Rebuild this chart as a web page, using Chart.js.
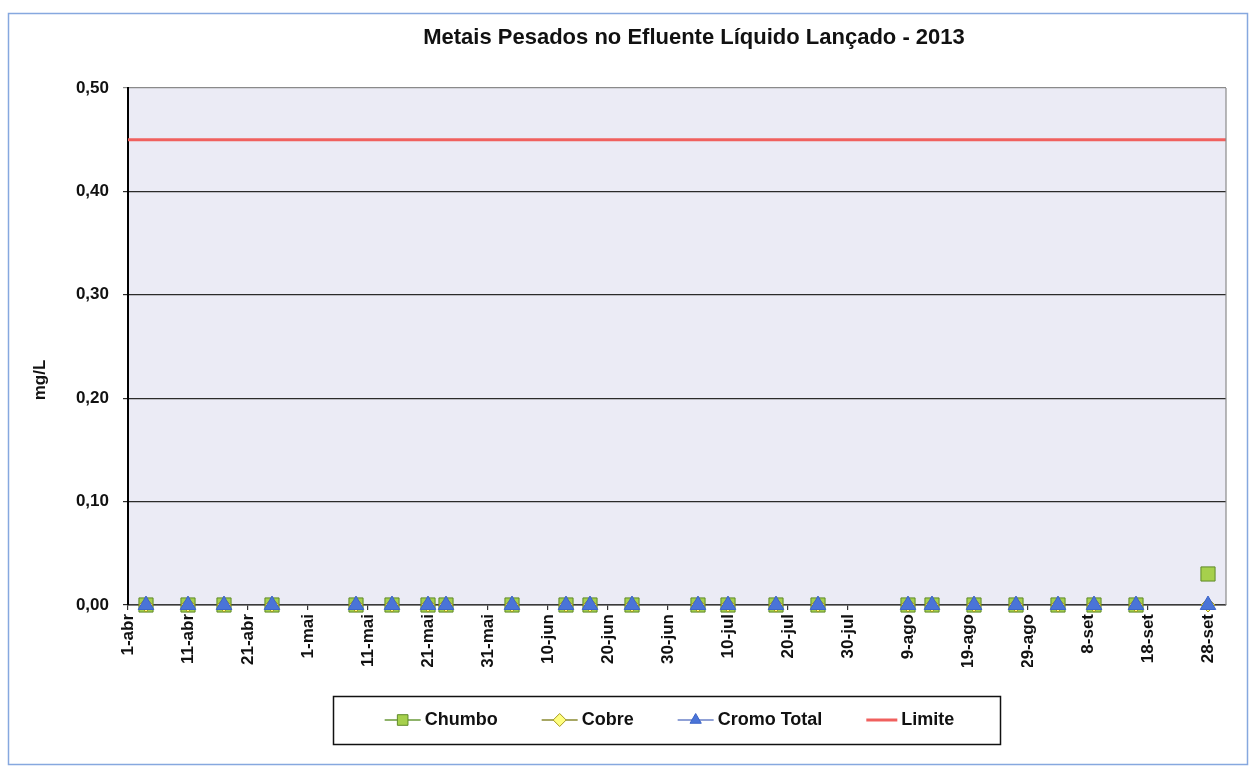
<!DOCTYPE html>
<html>
<head>
<meta charset="utf-8">
<title>Metais Pesados no Efluente Líquido Lançado - 2013</title>
<script src="https://cdn.jsdelivr.net/npm/chart.js@4.4.1/dist/chart.umd.min.js"></script>
<style>
  html, body { margin: 0; padding: 0; background: #ffffff; }
  canvas { display: block; }
</style>
</head>
<body>
<canvas id="chart" width="1250" height="767"></canvas>
<script>
// Sampling dates (2013) and measured concentrations, mg/L
const sampleDates = [
  '2013-04-04', '2013-04-11', '2013-04-17', '2013-04-25', '2013-05-09', '2013-05-15',
  '2013-05-21', '2013-05-24', '2013-06-04', '2013-06-13', '2013-06-17', '2013-06-24',
  '2013-07-05', '2013-07-10', '2013-07-18', '2013-07-25', '2013-08-09', '2013-08-13',
  '2013-08-20', '2013-08-27', '2013-09-03', '2013-09-09', '2013-09-16', '2013-09-28'
];
const chumbo = [
  0, 0, 0, 0, 0, 0,
  0, 0, 0, 0, 0, 0,
  0, 0, 0, 0, 0, 0,
  0, 0, 0, 0, 0, 0.03
];
const cobre = [
  0, 0, 0, 0, 0, 0,
  0, 0, 0, 0, 0, 0,
  0, 0, 0, 0, 0, 0,
  0, 0, 0, 0, 0, 0
];
const cromoTotal = [
  0, 0, 0, 0, 0, 0,
  0, 0, 0, 0, 0, 0,
  0, 0, 0, 0, 0, 0,
  0, 0, 0, 0, 0, 0
];

// Discharge limit, drawn across the whole period
const limiteDates = ['2013-04-01', '2013-10-01'];
const limite = [0.45, 0.45];

// Date axis: range and tick marks every 10 days
const axisStart = '2013-04-01';
const axisEnd = '2013-10-01';
const tickDates = [
  '2013-04-01', '2013-04-11', '2013-04-21', '2013-05-01', '2013-05-11', '2013-05-21',
  '2013-05-31', '2013-06-10', '2013-06-20', '2013-06-30', '2013-07-10', '2013-07-20',
  '2013-07-30', '2013-08-09', '2013-08-19', '2013-08-29', '2013-09-08', '2013-09-18',
  '2013-09-28'
];
const tickLabels = [
  '1-abr', '11-abr', '21-abr', '1-mai', '11-mai', '21-mai',
  '31-mai', '10-jun', '20-jun', '30-jun', '10-jul', '20-jul',
  '30-jul', '9-ago', '19-ago', '29-ago', '8-set', '18-set',
  '28-set'
];
const yTicks = [0, 0.1, 0.2, 0.3, 0.4, 0.5];

const chartTitle = 'Metais Pesados no Efluente Líquido Lançado - 2013';
const yAxisTitle = 'mg/L';

const FONT = "'Liberation Sans', Arial, Helvetica, sans-serif";
const DAY = 86400000;
const dayOf = s => (Date.parse(s) - Date.parse(axisStart)) / DAY;
const points = (dates, values) => dates.map((d, i) => ({ x: dayOf(d), y: values[i] }));

// Page frame, plot background, title, axis title, plot border
const decorations = {
  id: 'decorations',
  beforeDraw(chart) {
    const { ctx, chartArea: a, width, height } = chart;
    ctx.save();
    ctx.fillStyle = '#ffffff';
    ctx.fillRect(0, 0, width, height);
    ctx.strokeStyle = '#86a8df';
    ctx.lineWidth = 1.5;
    ctx.strokeRect(8.5, 13.5, width - 11, height - 16);
    ctx.fillStyle = '#ebebf5';
    ctx.fillRect(a.left, a.top, a.right - a.left, a.bottom - a.top);
    ctx.restore();
  },
  afterDraw(chart) {
    const { ctx, chartArea: a } = chart;
    ctx.save();
    ctx.strokeStyle = '#8a8a8a';
    ctx.lineWidth = 1.2;
    ctx.beginPath();
    ctx.moveTo(a.right, a.top);
    ctx.lineTo(a.right, a.bottom);
    ctx.stroke();

    ctx.fillStyle = '#111111';
    ctx.font = 'bold 22px ' + FONT;
    ctx.textAlign = 'center';
    ctx.textBaseline = 'middle';
    ctx.fillText(chartTitle, 694, 38);

    ctx.font = 'bold 17px ' + FONT;
    ctx.translate(40, 380);
    ctx.rotate(-Math.PI / 2);
    ctx.fillText(yAxisTitle, 0, 0);
    ctx.restore();
  }
};

// Boxed legend: each series shows its line with its marker
const boxedLegend = {
  id: 'boxedLegend',
  afterDraw(chart) {
    const { ctx } = chart;
    const box = { left: 333, top: 696, right: 1000, bottom: 744 };
    const cy = (box.top + box.bottom) / 2;
    const gap = 44;
    ctx.save();
    ctx.font = 'bold 18px ' + FONT;
    const items = chart.data.datasets.map(ds => {
      const marker = ds.pointRadius > 0;
      const lineLen = marker ? 36 : 31;
      return { ds, marker, lineLen, w: lineLen + 4 + ctx.measureText(ds.label).width };
    });
    const total = items.reduce((s, it) => s + it.w, 0) + gap * (items.length - 1);
    let x = (box.left + box.right) / 2 - total / 2 + 3;

    ctx.fillStyle = '#ffffff';
    ctx.fillRect(box.left, box.top, box.right - box.left, box.bottom - box.top);
    ctx.strokeStyle = '#111111';
    ctx.lineWidth = 1.5;
    ctx.strokeRect(box.left + 0.5, box.top + 0.5, box.right - box.left, box.bottom - box.top);

    items.forEach(it => {
      const ds = it.ds;
      ctx.strokeStyle = it.marker ? ds.legendLine : ds.borderColor;
      ctx.lineWidth = it.marker ? 1.3 : 3;
      ctx.beginPath();
      ctx.moveTo(x, cy);
      ctx.lineTo(x + it.lineLen, cy);
      ctx.stroke();
      if (it.marker) {
        ctx.fillStyle = ds.pointBackgroundColor;
        ctx.strokeStyle = ds.pointBorderColor;
        ctx.lineWidth = 1;
        Chart.helpers.drawPoint(ctx, {
          pointStyle: ds.pointStyle,
          rotation: 0,
          radius: ds.legendRadius,
          borderWidth: 1
        }, x + it.lineLen / 2, cy);
      }
      ctx.fillStyle = '#111111';
      ctx.textAlign = 'left';
      ctx.textBaseline = 'middle';
      ctx.fillText(ds.label, x + it.lineLen + 4, cy);
      x += it.w + gap;
    });
    ctx.restore();
  }
};

new Chart(document.getElementById('chart'), {
  type: 'scatter',
  data: {
    datasets: [
      {
        label: 'Chumbo',
        data: points(sampleDates, chumbo),
        showLine: false,
        clip: false,
        pointStyle: 'rect',
        pointRadius: 10,
        legendRadius: 7.5,
        pointBackgroundColor: '#a6d04c',
        pointBorderColor: '#5f8a2a',
        pointBorderWidth: 1,
        legendLine: '#6a9a3a',
        order: 3
      },
      {
        label: 'Cobre',
        data: points(sampleDates, cobre),
        showLine: false,
        clip: false,
        pointStyle: 'rectRot',
        pointRadius: 7,
        legendRadius: 6.5,
        pointBackgroundColor: '#ffff80',
        pointBorderColor: '#a89a20',
        pointBorderWidth: 1,
        legendLine: '#8a8a30',
        order: 2
      },
      {
        label: 'Cromo Total',
        data: points(sampleDates, cromoTotal),
        showLine: false,
        clip: false,
        pointStyle: 'triangle',
        pointRadius: 9,
        legendRadius: 6.5,
        pointBackgroundColor: '#4a74d8',
        pointBorderColor: '#3c64c8',
        pointBorderWidth: 1,
        legendLine: '#6b82c8',
        order: 1
      },
      {
        label: 'Limite',
        data: points(limiteDates, limite),
        showLine: true,
        borderColor: '#f0605e',
        borderWidth: 3,
        pointRadius: 0,
        pointHoverRadius: 0,
        order: 4
      }
    ]
  },
  options: {
    responsive: false,
    animation: false,
    events: [],
    layout: { padding: { top: 88, right: 24, bottom: 100, left: 0 } },
    plugins: {
      legend: { display: false },
      title: { display: false },
      tooltip: { enabled: false }
    },
    scales: {
      x: {
        type: 'linear',
        min: dayOf(axisStart),
        max: dayOf(axisEnd),
        afterBuildTicks: scale => { scale.ticks = tickDates.map(d => ({ value: dayOf(d) })); },
        afterFit: scale => { scale.height = 62; },
        ticks: {
          autoSkip: false,
          minRotation: 90,
          maxRotation: 90,
          padding: 4,
          color: '#111111',
          font: { family: FONT, size: 17, weight: 'bold' },
          callback: (v, i) => tickLabels[i]
        },
        grid: {
          drawOnChartArea: false,
          drawTicks: true,
          tickLength: 5,
          color: '#333333',
          lineWidth: 1.2
        },
        border: { display: true, color: '#3a3a3a', width: 1.5 }
      },
      y: {
        min: 0,
        max: 0.5,
        afterBuildTicks: scale => { scale.ticks = yTicks.map(v => ({ value: v })); },
        afterFit: scale => { scale.width = 128; },
        ticks: {
          padding: 14,
          color: '#111111',
          font: { family: FONT, size: 17, weight: 'bold' },
          callback: v => v.toFixed(2).replace('.', ',')
        },
        grid: {
          drawTicks: true,
          tickLength: 5,
          color: ctx => (ctx.tick && ctx.tick.value >= 0.5 ? '#8a8a8a' : '#2a2a2a'),
          lineWidth: 1.2
        },
        border: { display: true, color: '#000000', width: 2 }
      }
    }
  },
  plugins: [decorations, boxedLegend]
});
</script>
</body>
</html>
